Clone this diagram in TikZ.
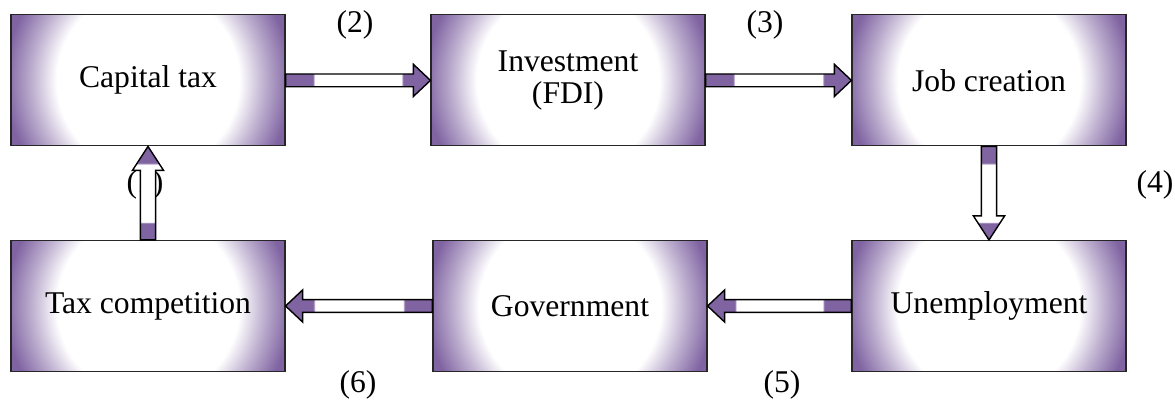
\documentclass[tikz,border=0pt]{standalone}
\usepackage{fontspec}
\setmainfont{Liberation Serif}
\usetikzlibrary{calc}

% Define colors and shadings for boxes and arrows
\definecolor{boxpurple}{RGB}{128,100,162} % Purple of edges and arrow ends
\pgfdeclareradialshading{boxglow}{\pgfpoint{0bp}{0bp}}{color(0bp)=(white); color(15bp)=(white); color(19bp)=(boxpurple!50); color(23.5bp)=(boxpurple); color(50bp)=(boxpurple)}
\pgfdeclarehorizontalshading{hbar}{100bp}{color(0bp)=(boxpurple); color(34.5bp)=(boxpurple); color(35bp)=(white); color(65bp)=(white); color(65.5bp)=(boxpurple); color(100bp)=(boxpurple)}
\pgfdeclareverticalshading{vbar}{100bp}{color(0bp)=(boxpurple); color(34bp)=(boxpurple); color(34.5bp)=(white); color(65.5bp)=(white); color(66bp)=(boxpurple); color(100bp)=(boxpurple)}

\begin{document}
\begin{tikzpicture}[
        font=\fontsize{22.5}{23}\selectfont,
        box/.style={draw=black!85, line width=0.8pt, minimum width=6.85cm, minimum height=3.275cm,
            inner sep=0pt, align=center,
            path picture={\shade[shading=boxglow] (path picture bounding box.center) circle (3.8cm);}},
        harrow/.style={shading=hbar, draw=black, line width=1pt, line join=miter},
        varrow/.style={shading=vbar, draw=black, line width=1pt, line join=miter}
    ]
        
        % Fix the picture size
        \useasboundingbox (0,0) rectangle (29.375,10);
        
        % Draw the six boxes
        \node[box] (cap) at (3.7,7.99) {Capital tax}; % Top-left
        \node[box] (inv) at (14.2,7.99) {Investment\\(FDI)}; % Top-middle
        \node[box] (job) at (24.725,7.99) {Job creation}; % Top-right
        \node[box] (taxc) at (3.7,2.35) {Tax competition}; % Bottom-left
        \node[box] (gov) at (14.25,2.35) {Government}; % Bottom-middle
        \node[box] (unemp) at (24.725,2.35) {Unemployment}; % Bottom-right
        
        % Draw step numbers
        \node (lab1) at (3.625,5.375) {(1)}; % Hidden behind the up arrow
        \node (lab2) at (8.875,9.375) {(2)};
        \node (lab3) at (19.125,9.375) {(3)};
        \node (lab4) at (28.875,5.375) {(4)};
        \node (lab5) at (19.55,0.375) {(5)};
        \node (lab6) at (8.95,0.375) {(6)};
        
        % Draw block arrows
        \shade[harrow] ($(cap.east)+(0,0.16)$) -- ($(inv.west)+(-0.425,0.16)$) -- ($(inv.west)+(-0.425,0.4)$) -- (inv.west) -- ($(inv.west)+(-0.425,-0.4)$) -- ($(inv.west)+(-0.425,-0.16)$) -- ($(cap.east)+(0,-0.16)$) -- cycle; % (2)
        \shade[harrow] ($(inv.east)+(0,0.16)$) -- ($(job.west)+(-0.425,0.16)$) -- ($(job.west)+(-0.425,0.4)$) -- (job.west) -- ($(job.west)+(-0.425,-0.4)$) -- ($(job.west)+(-0.425,-0.16)$) -- ($(inv.east)+(0,-0.16)$) -- cycle; % (3)
        \shade[varrow] ($(job.south)+(-0.19,0)$) -- ($(unemp.north)+(-0.19,0.6)$) -- ($(unemp.north)+(-0.39,0.6)$) -- (unemp.north) -- ($(unemp.north)+(0.39,0.6)$) -- ($(unemp.north)+(0.19,0.6)$) -- ($(job.south)+(0.19,0)$) -- cycle; % (4)
        \shade[harrow] ($(unemp.west)+(0,0.16)$) -- ($(gov.east)+(0.425,0.16)$) -- ($(gov.east)+(0.425,0.4)$) -- (gov.east) -- ($(gov.east)+(0.425,-0.4)$) -- ($(gov.east)+(0.425,-0.16)$) -- ($(unemp.west)+(0,-0.16)$) -- cycle; % (5)
        \shade[harrow] ($(gov.west)+(0,0.16)$) -- ($(taxc.east)+(0.425,0.16)$) -- ($(taxc.east)+(0.425,0.4)$) -- (taxc.east) -- ($(taxc.east)+(0.425,-0.4)$) -- ($(taxc.east)+(0.425,-0.16)$) -- ($(gov.west)+(0,-0.16)$) -- cycle; % (6)
        \shade[varrow] ($(taxc.north)+(-0.19,0)$) -- ($(cap.south)+(-0.19,-0.6)$) -- ($(cap.south)+(-0.39,-0.6)$) -- (cap.south) -- ($(cap.south)+(0.39,-0.6)$) -- ($(cap.south)+(0.19,-0.6)$) -- ($(taxc.north)+(0.19,0)$) -- cycle; % (1)
        \end{tikzpicture}
\end{document}
